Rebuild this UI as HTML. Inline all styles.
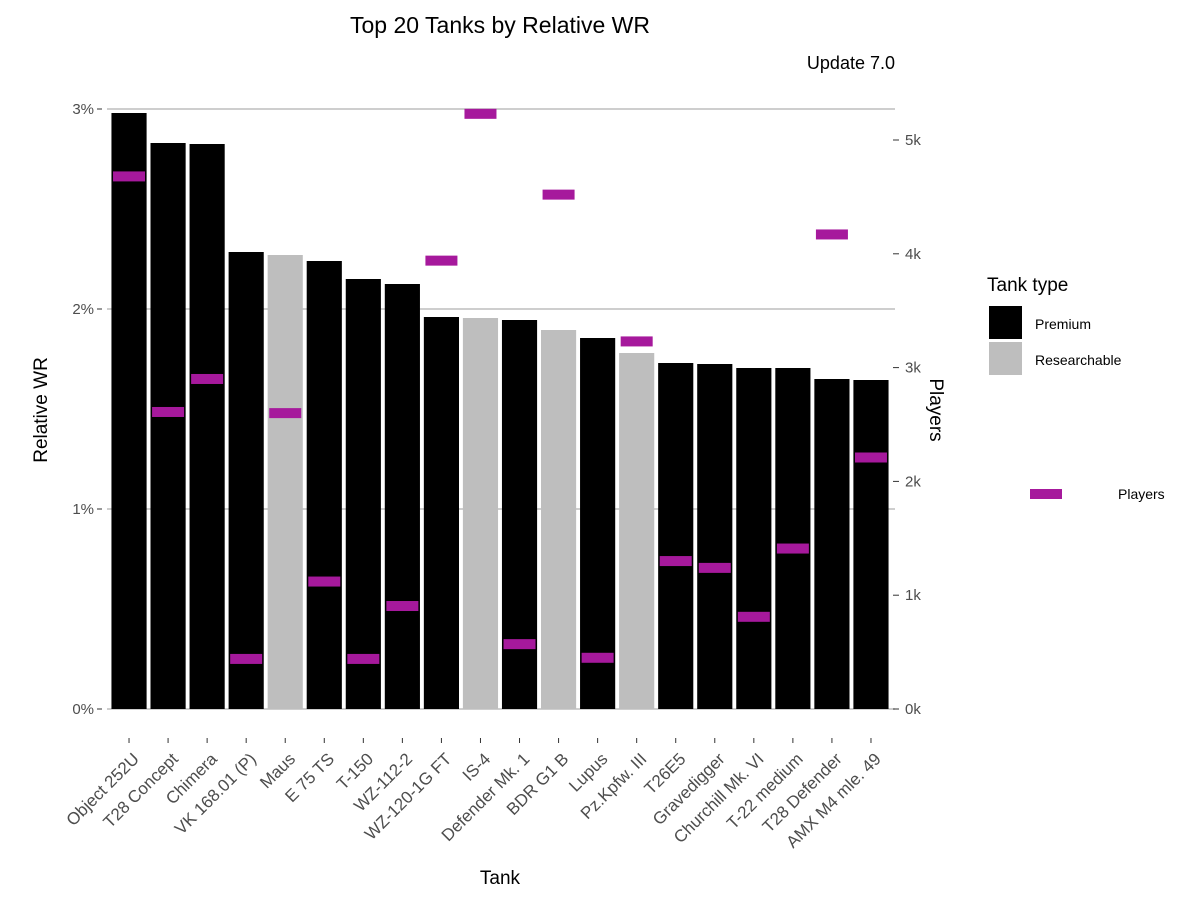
<!DOCTYPE html>
<html><head><meta charset="utf-8"><style>
body{margin:0;background:#fff;font-family:"Liberation Sans",Arial,sans-serif;}
svg text{font-family:"Liberation Sans",Arial,sans-serif;}
</style></head><body>
<svg id="chart" width="1200" height="900" xmlns="http://www.w3.org/2000/svg">
<rect width="1200" height="900" fill="#fff"/>
<text x="500" y="33" font-size="23" text-anchor="middle" fill="#000">Top 20 Tanks by Relative WR</text>
<text x="895" y="69" font-size="18" text-anchor="end" fill="#000">Update 7.0</text>
<g id="grid"></g><g id="bars"></g><g id="marks"></g><g id="axes"></g>
<text transform="translate(47,410) rotate(-90)" font-size="19" text-anchor="middle">Relative WR</text>
<text transform="translate(930,410) rotate(90)" font-size="19" text-anchor="middle">Players</text>
<text x="500" y="884" font-size="19" text-anchor="middle">Tank</text>
<g>
<text x="987" y="291" font-size="19">Tank type</text>
<rect x="989" y="306" width="33" height="33" fill="#000"/>
<text x="1035" y="329" font-size="14">Premium</text>
<rect x="989" y="342" width="33" height="33" fill="#bebebe"/>
<text x="1035" y="365" font-size="14">Researchable</text>
<rect x="1030" y="489" width="32" height="10" fill="#a6199c"/>
<text x="1118" y="499" font-size="14">Players</text>
</g>
</svg>
<script>
const tanks=["Object 252U","T28 Concept","Chimera","VK 168.01 (P)","Maus","E 75 TS","T-150","WZ-112-2","WZ-120-1G FT","IS-4","Defender Mk. 1","BDR G1 B","Lupus","Pz.Kpfw. III","T26E5","Gravedigger","Churchill Mk. VI","T-22 medium","T28 Defender","AMX M4 mle. 49"];
const relWR=[2.98,2.83,2.825,2.285,2.27,2.24,2.15,2.125,1.96,1.955,1.945,1.895,1.855,1.78,1.73,1.725,1.705,1.705,1.65,1.645];
const tankType=["P","P","P","P","R","P","P","P","P","R","P","R","P","R","P","P","P","P","P","P"];
const players=[4.68,2.61,2.90,0.44,2.60,1.12,0.44,0.905,3.94,5.23,0.57,4.52,0.45,3.23,1.30,1.24,0.81,1.41,4.17,2.21];
const yTicks=[0,1,2,3];
const y2Ticks=[0,1,2,3,4,5];
const NS="http://www.w3.org/2000/svg";
const xL=109.5,step=39.05,gL=107,gR=895;
const xC=i=>xL+step*(i+0.5);
const yS=v=>709-v*200;
const y2S=v=>709-v*113.8;
function mk(t,a,p){const e=document.createElementNS(NS,t);for(const k in a)e.setAttribute(k,a[k]);p.appendChild(e);return e;}
const grid=document.getElementById('grid'),bars=document.getElementById('bars'),marks=document.getElementById('marks'),axes=document.getElementById('axes');
yTicks.forEach(v=>{
 const g=mk('line',{x1:gL,x2:gR,y1:yS(v),y2:yS(v),stroke:'#bebebe','stroke-width':1.5},grid);
 
 
 const t=mk('text',{x:94,y:yS(v)+5,'font-size':15,'text-anchor':'end',fill:'#4d4d4d'},axes);t.textContent=v+'%';
 
 
 mk('line',{x1:97,x2:102,y1:yS(v),y2:yS(v),stroke:'#333'},axes);
});
y2Ticks.forEach(v=>{
 const t=mk('text',{x:905,y:y2S(v)+5,'font-size':15,fill:'#4d4d4d'},axes);t.textContent=v+'k';
 
 
 mk('line',{x1:893,x2:899,y1:y2S(v),y2:y2S(v),stroke:'#333'},axes);
});
const bw=step*0.9;
tanks.forEach((n,i)=>{
 const b=mk('rect',{x:xC(i)-bw/2,y:yS(relWR[i]),width:bw,height:yS(0)-yS(relWR[i]),fill:tankType[i]=='P'?'#000':'#bebebe'},bars);
 
 
 const m=mk('rect',{x:xC(i)-16,y:y2S(players[i])-5,width:32,height:10,fill:'#a6199c'},marks);
 
 
 mk('line',{x1:xC(i),x2:xC(i),y1:738,y2:743,stroke:'#333'},axes);
 const t=mk('text',{transform:`translate(${xC(i)+11},${760}) rotate(-45)`,'font-size':17,'text-anchor':'end',fill:'#4d4d4d'},axes);t.textContent=n;
 
 
});
</script>
</body></html>
